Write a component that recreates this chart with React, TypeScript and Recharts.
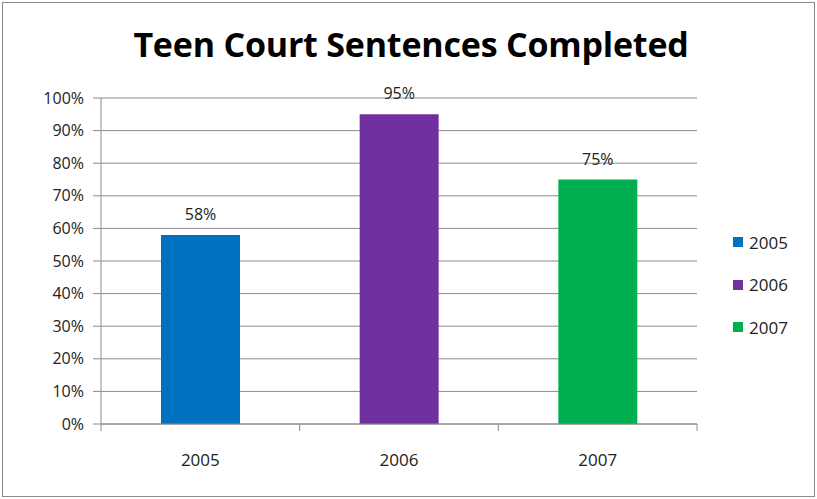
import { BarChart, Bar, XAxis, YAxis, CartesianGrid, Legend, LabelList } from 'recharts';

const years = ['2005', '2006', '2007'];
const completed = [58, 95, 75];
const colors = ['#0070C0', '#7030A0', '#00B050'];
const yTicks = [0, 10, 20, 30, 40, 50, 60, 70, 80, 90, 100];

// one row per year, each year its own series so the legend lists them
const data = years.map((y, i) => ({ name: y, [y]: completed[i] }));

const font = '"Open Sans", "Liberation Sans", sans-serif';
const axisGray = '#8c8c8c';

const renderLegend = (props: any) => {
  const items = props.payload || [];
  return (
    <div style={{ fontFamily: font, fontSize: 17, color: '#222' }}>
      {items.map((it: any) => (
        <div key={it.value} style={{ display: 'flex', alignItems: 'center', height: 42.5 }}>
          <span style={{ width: 10, height: 10, background: it.color, marginRight: 6, display: 'inline-block' }} />
          <span>{it.value}</span>
        </div>
      ))}
    </div>
  );
};

// category label plus Excel-style tick marks between categories
const CatTick = (props: any) => {
  const { x, y, payload, index, width, visibleTicksCount } = props;
  const band = width / (visibleTicksCount || years.length);
  const axisY = y - 30;
  const last = index === (visibleTicksCount || years.length) - 1;
  return (
    <g>
      <line x1={x - band / 2} x2={x - band / 2} y1={axisY} y2={axisY + 7} stroke={axisGray} />
      {last && <line x1={x + band / 2} x2={x + band / 2} y1={axisY} y2={axisY + 7} stroke={axisGray} />}
      <text x={x} y={y} dy="0.71em" textAnchor="middle" fill="#222" fontSize={17} fontFamily={font}>
        {payload.value}
      </text>
    </g>
  );
};

export default function App() {
  return (
    <div style={{ position: 'absolute', left: 0, top: 0, width: 817, height: 499, background: '#fff' }}>
      <div
        style={{
          position: 'absolute', left: 2, top: 2, width: 813, height: 495,
          border: '1.5px solid #8a8a8a', boxSizing: 'border-box',
        }}
      />
      <div
        style={{
          position: 'absolute', left: 0, width: 822, top: 21, textAlign: 'center',
          fontFamily: font, fontWeight: 700, fontSize: 34, color: '#000', letterSpacing: -0.2,
        }}
      >
        Teen Court Sentences Completed
      </div>
      <BarChart
        width={817}
        height={499}
        data={data}
        margin={{ top: 98, right: 40, left: 20, bottom: 15 }}
        style={{ position: 'absolute', left: 0, top: 0 }}
      >
        <CartesianGrid vertical={false} stroke={axisGray} strokeWidth={1} />
        <XAxis
          dataKey="name"
          axisLine={{ stroke: axisGray }}
          tickLine={false}
          tickSize={0}
          tickMargin={30}
          height={60}
          interval={0}
          tick={<CatTick />}
        />
        <YAxis
          domain={[0, 100]}
          ticks={yTicks}
          interval={0}
          tickFormatter={(v: number) => `${v}%`}
          width={81}
          tickSize={8}
          tickMargin={9}
          axisLine={{ stroke: axisGray }}
          tickLine={{ stroke: axisGray }}
          tick={{ fill: '#222', fontSize: 16, fontFamily: font }}
        />
        <Legend
          layout="vertical"
          align="right"
          verticalAlign="middle"
          width={80}
          content={renderLegend}
          wrapperStyle={{ left: 733, top: 221 }}
        />
        {years.map((y, i) => (
          <Bar key={y} dataKey={y} stackId="a" fill={colors[i]} barSize={79} isAnimationActive={false}>
            <LabelList
              dataKey={y}
              position="top"
              offset={15}
              formatter={(v: any) => (v == null ? '' : `${v}%`)}
              style={{ fill: '#222', fontSize: 16, fontFamily: font }}
            />
          </Bar>
        ))}
      </BarChart>
    </div>
  );
}
